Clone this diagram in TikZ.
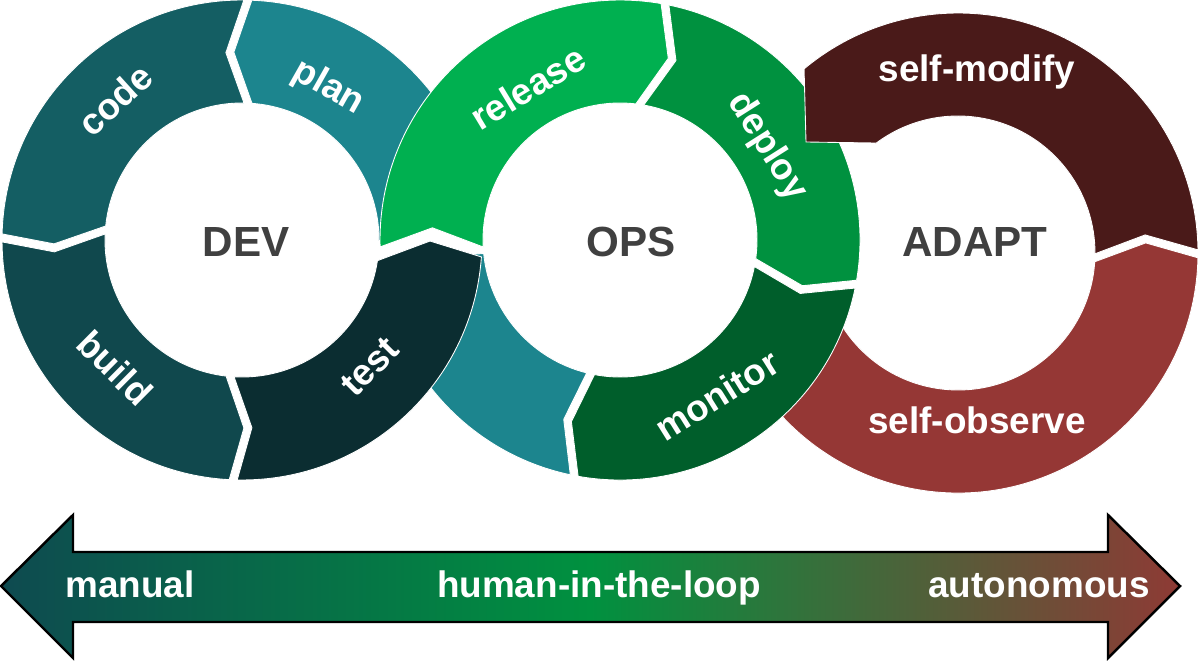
\documentclass[tikz,border=0pt]{standalone}
\usepackage{fontspec}
\setmainfont{Liberation Sans}

\definecolor{codecol}{HTML}{145E63}
\definecolor{plancol}{HTML}{1C858E}
\definecolor{buildcol}{HTML}{10484D}
\definecolor{testcol}{HTML}{0B2D31}
\definecolor{releasecol}{HTML}{00B050}
\definecolor{deploycol}{HTML}{00913F}
\definecolor{monitorcol}{HTML}{005E2B}
\definecolor{modifycol}{HTML}{4A1A19}
\definecolor{observecol}{HTML}{953735}
\definecolor{hubcol}{HTML}{404040}
\definecolor{arrowL}{HTML}{0E4A50}
\definecolor{arrowM}{HTML}{00913F}
\definecolor{arrowR}{HTML}{8E3A35}

\def\rin{137}\def\rmid{188}\def\rout{240}
\def\gapin{1.67}\def\gapmid{1.22}\def\gapout{0.95}
\def\flow{1}
\def\ringpart[#1](#2)(#3:#4:#5)(#6:#7:#8){\fill[#1, shift={(#2)}] ({#3+(\flow)*\gapin}:\rin) -- ({#4+(\flow)*\gapmid}:\rmid) -- ({#5+(\flow)*\gapout}:\rout) arc[start angle={#5+(\flow)*\gapout}, end angle={#8-(\flow)*\gapout}, radius=\rout] -- ({#7-(\flow)*\gapmid}:\rmid) -- ({#6-(\flow)*\gapin}:\rin) arc[start angle={#6-(\flow)*\gapin}, end angle={#3+(\flow)*\gapin}, radius=\rin] -- cycle;}

\tikzset{
  ringseg/.style={draw=white, line width=0.5pt},
  seglabel/.style={text=white, font=\fontsize{21}{25}\selectfont\bfseries, inner sep=0pt},
  hub/.style={text=hubcol, font=\fontsize{24}{28}\selectfont\bfseries, inner sep=0pt, anchor=base},
  scalelabel/.style={text=white, font=\fontsize{21}{25}\selectfont\bfseries, inner sep=0pt, anchor=base}
}

\begin{document}
\begin{tikzpicture}[x=0.02cm, y=0.02cm]
		%%%%% START %%%%%
		\useasboundingbox (0,0) rectangle (1200,660);
		
		\coordinate (devc) at (242,420);
		\coordinate (opsc) at (620,420);
		\coordinate (adaptc) at (958,407);
		
		% DEV ring, first three parts
		\def\flow{1}
		\ringpart[plancol, ringseg](242,420)(-2:4.5:0)(87.5:93.7:88.6)
		\ringpart[codecol, ringseg](242,420)(87.5:93.7:88.6)(175.8:182.4:179.5)
		\ringpart[buildcol, ringseg](242,420)(175.8:182.4:179.5)(265:271.8:267.9)
		
		% ADAPT ring, lower part
		\ringpart[observecol, ringseg](958,407)(-158:-158:-158)(-2:4.3:-0.2)
		
		% OPS ring, part that runs under test
		\def\flow{-1}
		\ringpart[plancol, ringseg](620,420)(-102.4:-106.2:-101)(-176:-176:-176)
		
		\def\flow{1}
		\ringpart[testcol, ringseg](242,420)(265:271.8:267.9)(353:360.9:356.9)
		
		% OPS ring
		\def\flow{-1}
		\ringpart[releasecol, ringseg](620,420)(184.6:177.5:182.6)(81.7:73.9:79.2)
		\ringpart[deploycol, ringseg](620,420)(81.7:73.9:79.2)(-9.5:-15.3:-10.6)
		\ringpart[monitorcol, ringseg](620,420)(-9.5:-15.3:-10.6)(-102.4:-106.2:-101)
		
		% ADAPT ring, upper part with square tail
		\fill[modifycol, ringseg, shift={(958,407)}] ({-2+\gapin}:\rin) -- ({4.3+\gapmid}:\rmid) -- ({-0.2+\gapout}:\rout) arc[start angle={-0.2+\gapout}, end angle=129.9, radius=\rout] -- (-152,111) -- (126.6:\rin) arc[start angle=126.6, end angle={-2+\gapin}, radius=\rin] -- cycle;
		
		% ring names
		\node[hub] (dev) at (246,403) {DEV};
		\node[hub] (ops) at (631,403) {OPS};
		\node[hub] (adapt) at (975,403) {ADAPT};
		
		% part labels
		\node[seglabel, rotate=42.2] (code) at ([shift={(132.2:189)}]devc) {code};
		\node[seglabel, rotate=-29.5] (plan) at ([shift={(60.5:175)}]devc) {plan};
		\node[seglabel, rotate=-44.8] (build) at ([shift={(225.2:180)}]devc) {build};
		\node[seglabel, rotate=45.2] (test) at ([shift={(-44.8:180)}]devc) {test};
		\node[seglabel, rotate=31.2] (release) at ([shift={(121.2:178)}]opsc) {release};
		\node[seglabel, rotate=-57.7] (deploy) at ([shift={(32.3:174)}]opsc) {deploy};
		\node[seglabel, rotate=32] (monitor) at ([shift={(-58:183)}]opsc) {monitor};
		\node[seglabel, anchor=base] (modify) at (977,578) {self-modify};
		\node[seglabel, anchor=base] (observe) at (977,227) {self-observe};
		
		% scale arrow
		\draw[line width=1.4pt, line join=miter, left color=arrowL, right color=arrowR, middle color=arrowM] (1,74) -- (73,145) -- (73,108) -- (1108,108) -- (1108,145) -- (1180,74) -- (1108,2) -- (1108,38) -- (73,38) -- (73,2) -- cycle;
		
		\node[scalelabel] (manual) at (130,63) {manual};
		\node[scalelabel] (hitl) at (599,63) {human-in-the-loop};
		\node[scalelabel] (auto) at (1039,63) {autonomous};
		
		%%%%% END %%%%%
	\end{tikzpicture}
\end{document}
